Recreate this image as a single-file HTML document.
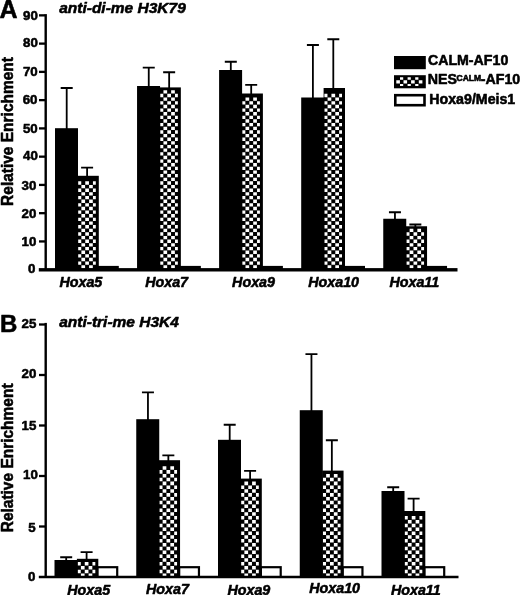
<!DOCTYPE html>
<html lang="en">
<head>
<meta charset="utf-8">
<title>Figure</title>
<style>
html,body{margin:0;padding:0;background:#fff;}
body{width:520px;height:595px;overflow:hidden;}
svg{display:block;}
text{font-family:"Liberation Sans",sans-serif;font-weight:bold;fill:#000;stroke:#000;stroke-width:0.55px;stroke-linejoin:round;}
.it{font-style:italic;}
</style>
</head>
<body>
<svg width="520" height="595" viewBox="0 0 520 595">
<rect x="0" y="0" width="520" height="595" fill="#fff"/>
<path d="M60.7 88H72.7M66.7 88V129.2" fill="none" stroke="#000" stroke-width="1.8"/>
<path d="M81.1 167.55H93.1M87.1 167.55V176.8" fill="none" stroke="#000" stroke-width="1.8"/>
<rect x="97.6" y="265.9" width="21.2" height="3.8" fill="#000"/>
<rect x="77.4" y="175.8" width="21.4" height="93.9" fill="#000"/>
<path d="M81.4 265.13H85.1V268.47H81.4zM89.1 265.13H92.8V268.47H89.1zM78.2 261.48H81.25V264.83H78.2zM85.25 261.48H88.95V264.83H85.25zM92.95 261.48H95.8V264.83H92.95zM81.4 257.84H85.1V261.18H81.4zM89.1 257.84H92.8V261.18H89.1zM78.2 254.2H81.25V257.54H78.2zM85.25 254.2H88.95V257.54H85.25zM92.95 254.2H95.8V257.54H92.95zM81.4 250.55H85.1V253.9H81.4zM89.1 250.55H92.8V253.9H89.1zM78.2 246.91H81.25V250.25H78.2zM85.25 246.91H88.95V250.25H85.25zM92.95 246.91H95.8V250.25H92.95zM81.4 243.26H85.1V246.61H81.4zM89.1 243.26H92.8V246.61H89.1zM78.2 239.62H81.25V242.96H78.2zM85.25 239.62H88.95V242.96H85.25zM92.95 239.62H95.8V242.96H92.95zM81.4 235.98H85.1V239.32H81.4zM89.1 235.98H92.8V239.32H89.1zM78.2 232.33H81.25V235.68H78.2zM85.25 232.33H88.95V235.68H85.25zM92.95 232.33H95.8V235.68H92.95zM81.4 228.69H85.1V232.03H81.4zM89.1 228.69H92.8V232.03H89.1zM78.2 225.04H81.25V228.39H78.2zM85.25 225.04H88.95V228.39H85.25zM92.95 225.04H95.8V228.39H92.95zM81.4 221.4H85.1V224.74H81.4zM89.1 221.4H92.8V224.74H89.1zM78.2 217.76H81.25V221.1H78.2zM85.25 217.76H88.95V221.1H85.25zM92.95 217.76H95.8V221.1H92.95zM81.4 214.11H85.1V217.46H81.4zM89.1 214.11H92.8V217.46H89.1zM78.2 210.47H81.25V213.81H78.2zM85.25 210.47H88.95V213.81H85.25zM92.95 210.47H95.8V213.81H92.95zM81.4 206.82H85.1V210.17H81.4zM89.1 206.82H92.8V210.17H89.1zM78.2 203.18H81.25V206.52H78.2zM85.25 203.18H88.95V206.52H85.25zM92.95 203.18H95.8V206.52H92.95zM81.4 199.54H85.1V202.88H81.4zM89.1 199.54H92.8V202.88H89.1zM78.2 195.89H81.25V199.24H78.2zM85.25 195.89H88.95V199.24H85.25zM92.95 195.89H95.8V199.24H92.95zM81.4 192.25H85.1V195.59H81.4zM89.1 192.25H92.8V195.59H89.1zM78.2 188.6H81.25V191.95H78.2zM85.25 188.6H88.95V191.95H85.25zM92.95 188.6H95.8V191.95H92.95zM81.4 184.96H85.1V188.3H81.4zM89.1 184.96H92.8V188.3H89.1zM78.2 181.32H81.25V184.66H78.2zM85.25 181.32H88.95V184.66H85.25zM92.95 181.32H95.8V184.66H92.95z" fill="#fff"/>
<rect x="55" y="128.2" width="23" height="141.5" fill="#000"/>
<path d="M142.75 67.55H154.75M148.75 67.55V87" fill="none" stroke="#000" stroke-width="1.8"/>
<path d="M163.15 72.25H175.15M169.15 72.25V88.4" fill="none" stroke="#000" stroke-width="1.8"/>
<rect x="179.65" y="265.9" width="21.2" height="3.8" fill="#000"/>
<rect x="159.45" y="87.4" width="21.4" height="182.3" fill="#000"/>
<path d="M163.45 265.13H167.15V268.47H163.45zM171.15 265.13H174.85V268.47H171.15zM160.25 261.48H163.3V264.83H160.25zM167.3 261.48H171V264.83H167.3zM175 261.48H177.85V264.83H175zM163.45 257.84H167.15V261.18H163.45zM171.15 257.84H174.85V261.18H171.15zM160.25 254.2H163.3V257.54H160.25zM167.3 254.2H171V257.54H167.3zM175 254.2H177.85V257.54H175zM163.45 250.55H167.15V253.9H163.45zM171.15 250.55H174.85V253.9H171.15zM160.25 246.91H163.3V250.25H160.25zM167.3 246.91H171V250.25H167.3zM175 246.91H177.85V250.25H175zM163.45 243.26H167.15V246.61H163.45zM171.15 243.26H174.85V246.61H171.15zM160.25 239.62H163.3V242.96H160.25zM167.3 239.62H171V242.96H167.3zM175 239.62H177.85V242.96H175zM163.45 235.98H167.15V239.32H163.45zM171.15 235.98H174.85V239.32H171.15zM160.25 232.33H163.3V235.68H160.25zM167.3 232.33H171V235.68H167.3zM175 232.33H177.85V235.68H175zM163.45 228.69H167.15V232.03H163.45zM171.15 228.69H174.85V232.03H171.15zM160.25 225.04H163.3V228.39H160.25zM167.3 225.04H171V228.39H167.3zM175 225.04H177.85V228.39H175zM163.45 221.4H167.15V224.74H163.45zM171.15 221.4H174.85V224.74H171.15zM160.25 217.76H163.3V221.1H160.25zM167.3 217.76H171V221.1H167.3zM175 217.76H177.85V221.1H175zM163.45 214.11H167.15V217.46H163.45zM171.15 214.11H174.85V217.46H171.15zM160.25 210.47H163.3V213.81H160.25zM167.3 210.47H171V213.81H167.3zM175 210.47H177.85V213.81H175zM163.45 206.82H167.15V210.17H163.45zM171.15 206.82H174.85V210.17H171.15zM160.25 203.18H163.3V206.52H160.25zM167.3 203.18H171V206.52H167.3zM175 203.18H177.85V206.52H175zM163.45 199.54H167.15V202.88H163.45zM171.15 199.54H174.85V202.88H171.15zM160.25 195.89H163.3V199.24H160.25zM167.3 195.89H171V199.24H167.3zM175 195.89H177.85V199.24H175zM163.45 192.25H167.15V195.59H163.45zM171.15 192.25H174.85V195.59H171.15zM160.25 188.6H163.3V191.95H160.25zM167.3 188.6H171V191.95H167.3zM175 188.6H177.85V191.95H175zM163.45 184.96H167.15V188.3H163.45zM171.15 184.96H174.85V188.3H171.15zM160.25 181.32H163.3V184.66H160.25zM167.3 181.32H171V184.66H167.3zM175 181.32H177.85V184.66H175zM163.45 177.67H167.15V181.02H163.45zM171.15 177.67H174.85V181.02H171.15zM160.25 174.03H163.3V177.37H160.25zM167.3 174.03H171V177.37H167.3zM175 174.03H177.85V177.37H175zM163.45 170.38H167.15V173.73H163.45zM171.15 170.38H174.85V173.73H171.15zM160.25 166.74H163.3V170.08H160.25zM167.3 166.74H171V170.08H167.3zM175 166.74H177.85V170.08H175zM163.45 163.1H167.15V166.44H163.45zM171.15 163.1H174.85V166.44H171.15zM160.25 159.45H163.3V162.8H160.25zM167.3 159.45H171V162.8H167.3zM175 159.45H177.85V162.8H175zM163.45 155.81H167.15V159.15H163.45zM171.15 155.81H174.85V159.15H171.15zM160.25 152.16H163.3V155.51H160.25zM167.3 152.16H171V155.51H167.3zM175 152.16H177.85V155.51H175zM163.45 148.52H167.15V151.86H163.45zM171.15 148.52H174.85V151.86H171.15zM160.25 144.88H163.3V148.22H160.25zM167.3 144.88H171V148.22H167.3zM175 144.88H177.85V148.22H175zM163.45 141.23H167.15V144.58H163.45zM171.15 141.23H174.85V144.58H171.15zM160.25 137.59H163.3V140.93H160.25zM167.3 137.59H171V140.93H167.3zM175 137.59H177.85V140.93H175zM163.45 133.94H167.15V137.29H163.45zM171.15 133.94H174.85V137.29H171.15zM160.25 130.3H163.3V133.64H160.25zM167.3 130.3H171V133.64H167.3zM175 130.3H177.85V133.64H175zM163.45 126.66H167.15V130H163.45zM171.15 126.66H174.85V130H171.15zM160.25 123.01H163.3V126.36H160.25zM167.3 123.01H171V126.36H167.3zM175 123.01H177.85V126.36H175zM163.45 119.37H167.15V122.71H163.45zM171.15 119.37H174.85V122.71H171.15zM160.25 115.72H163.3V119.07H160.25zM167.3 115.72H171V119.07H167.3zM175 115.72H177.85V119.07H175zM163.45 112.08H167.15V115.42H163.45zM171.15 112.08H174.85V115.42H171.15zM160.25 108.44H163.3V111.78H160.25zM167.3 108.44H171V111.78H167.3zM175 108.44H177.85V111.78H175zM163.45 104.79H167.15V108.14H163.45zM171.15 104.79H174.85V108.14H171.15zM160.25 101.15H163.3V104.49H160.25zM167.3 101.15H171V104.49H167.3zM175 101.15H177.85V104.49H175zM163.45 97.5H167.15V100.85H163.45zM171.15 97.5H174.85V100.85H171.15zM160.25 93.86H163.3V97.2H160.25zM167.3 93.86H171V97.2H167.3zM175 93.86H177.85V97.2H175zM163.45 90.22H167.15V93.56H163.45zM171.15 90.22H174.85V93.56H171.15z" fill="#fff"/>
<rect x="137.05" y="86" width="23" height="183.7" fill="#000"/>
<path d="M224.8 61.75H236.8M230.8 61.75V71" fill="none" stroke="#000" stroke-width="1.8"/>
<path d="M245.2 84.95H257.2M251.2 84.95V94.5" fill="none" stroke="#000" stroke-width="1.8"/>
<rect x="261.7" y="265.9" width="21.2" height="3.8" fill="#000"/>
<rect x="241.5" y="93.5" width="21.4" height="176.2" fill="#000"/>
<path d="M245.5 265.13H249.2V268.47H245.5zM253.2 265.13H256.9V268.47H253.2zM242.3 261.48H245.35V264.83H242.3zM249.35 261.48H253.05V264.83H249.35zM257.05 261.48H259.9V264.83H257.05zM245.5 257.84H249.2V261.18H245.5zM253.2 257.84H256.9V261.18H253.2zM242.3 254.2H245.35V257.54H242.3zM249.35 254.2H253.05V257.54H249.35zM257.05 254.2H259.9V257.54H257.05zM245.5 250.55H249.2V253.9H245.5zM253.2 250.55H256.9V253.9H253.2zM242.3 246.91H245.35V250.25H242.3zM249.35 246.91H253.05V250.25H249.35zM257.05 246.91H259.9V250.25H257.05zM245.5 243.26H249.2V246.61H245.5zM253.2 243.26H256.9V246.61H253.2zM242.3 239.62H245.35V242.96H242.3zM249.35 239.62H253.05V242.96H249.35zM257.05 239.62H259.9V242.96H257.05zM245.5 235.98H249.2V239.32H245.5zM253.2 235.98H256.9V239.32H253.2zM242.3 232.33H245.35V235.68H242.3zM249.35 232.33H253.05V235.68H249.35zM257.05 232.33H259.9V235.68H257.05zM245.5 228.69H249.2V232.03H245.5zM253.2 228.69H256.9V232.03H253.2zM242.3 225.04H245.35V228.39H242.3zM249.35 225.04H253.05V228.39H249.35zM257.05 225.04H259.9V228.39H257.05zM245.5 221.4H249.2V224.74H245.5zM253.2 221.4H256.9V224.74H253.2zM242.3 217.76H245.35V221.1H242.3zM249.35 217.76H253.05V221.1H249.35zM257.05 217.76H259.9V221.1H257.05zM245.5 214.11H249.2V217.46H245.5zM253.2 214.11H256.9V217.46H253.2zM242.3 210.47H245.35V213.81H242.3zM249.35 210.47H253.05V213.81H249.35zM257.05 210.47H259.9V213.81H257.05zM245.5 206.82H249.2V210.17H245.5zM253.2 206.82H256.9V210.17H253.2zM242.3 203.18H245.35V206.52H242.3zM249.35 203.18H253.05V206.52H249.35zM257.05 203.18H259.9V206.52H257.05zM245.5 199.54H249.2V202.88H245.5zM253.2 199.54H256.9V202.88H253.2zM242.3 195.89H245.35V199.24H242.3zM249.35 195.89H253.05V199.24H249.35zM257.05 195.89H259.9V199.24H257.05zM245.5 192.25H249.2V195.59H245.5zM253.2 192.25H256.9V195.59H253.2zM242.3 188.6H245.35V191.95H242.3zM249.35 188.6H253.05V191.95H249.35zM257.05 188.6H259.9V191.95H257.05zM245.5 184.96H249.2V188.3H245.5zM253.2 184.96H256.9V188.3H253.2zM242.3 181.32H245.35V184.66H242.3zM249.35 181.32H253.05V184.66H249.35zM257.05 181.32H259.9V184.66H257.05zM245.5 177.67H249.2V181.02H245.5zM253.2 177.67H256.9V181.02H253.2zM242.3 174.03H245.35V177.37H242.3zM249.35 174.03H253.05V177.37H249.35zM257.05 174.03H259.9V177.37H257.05zM245.5 170.38H249.2V173.73H245.5zM253.2 170.38H256.9V173.73H253.2zM242.3 166.74H245.35V170.08H242.3zM249.35 166.74H253.05V170.08H249.35zM257.05 166.74H259.9V170.08H257.05zM245.5 163.1H249.2V166.44H245.5zM253.2 163.1H256.9V166.44H253.2zM242.3 159.45H245.35V162.8H242.3zM249.35 159.45H253.05V162.8H249.35zM257.05 159.45H259.9V162.8H257.05zM245.5 155.81H249.2V159.15H245.5zM253.2 155.81H256.9V159.15H253.2zM242.3 152.16H245.35V155.51H242.3zM249.35 152.16H253.05V155.51H249.35zM257.05 152.16H259.9V155.51H257.05zM245.5 148.52H249.2V151.86H245.5zM253.2 148.52H256.9V151.86H253.2zM242.3 144.88H245.35V148.22H242.3zM249.35 144.88H253.05V148.22H249.35zM257.05 144.88H259.9V148.22H257.05zM245.5 141.23H249.2V144.58H245.5zM253.2 141.23H256.9V144.58H253.2zM242.3 137.59H245.35V140.93H242.3zM249.35 137.59H253.05V140.93H249.35zM257.05 137.59H259.9V140.93H257.05zM245.5 133.94H249.2V137.29H245.5zM253.2 133.94H256.9V137.29H253.2zM242.3 130.3H245.35V133.64H242.3zM249.35 130.3H253.05V133.64H249.35zM257.05 130.3H259.9V133.64H257.05zM245.5 126.66H249.2V130H245.5zM253.2 126.66H256.9V130H253.2zM242.3 123.01H245.35V126.36H242.3zM249.35 123.01H253.05V126.36H249.35zM257.05 123.01H259.9V126.36H257.05zM245.5 119.37H249.2V122.71H245.5zM253.2 119.37H256.9V122.71H253.2zM242.3 115.72H245.35V119.07H242.3zM249.35 115.72H253.05V119.07H249.35zM257.05 115.72H259.9V119.07H257.05zM245.5 112.08H249.2V115.42H245.5zM253.2 112.08H256.9V115.42H253.2zM242.3 108.44H245.35V111.78H242.3zM249.35 108.44H253.05V111.78H249.35zM257.05 108.44H259.9V111.78H257.05zM245.5 104.79H249.2V108.14H245.5zM253.2 104.79H256.9V108.14H253.2zM242.3 101.15H245.35V104.49H242.3zM249.35 101.15H253.05V104.49H249.35zM257.05 101.15H259.9V104.49H257.05zM245.5 97.5H249.2V100.85H245.5zM253.2 97.5H256.9V100.85H253.2z" fill="#fff"/>
<rect x="219.1" y="70" width="23" height="199.7" fill="#000"/>
<path d="M306.9 45H318.9M312.9 45V98.5" fill="none" stroke="#000" stroke-width="1.8"/>
<path d="M327.3 39.25H339.3M333.3 39.25V89" fill="none" stroke="#000" stroke-width="1.8"/>
<rect x="343.8" y="265.9" width="21.2" height="3.8" fill="#000"/>
<rect x="323.6" y="88" width="21.4" height="181.7" fill="#000"/>
<path d="M327.6 265.13H331.3V268.47H327.6zM335.3 265.13H339V268.47H335.3zM324.4 261.48H327.45V264.83H324.4zM331.45 261.48H335.15V264.83H331.45zM339.15 261.48H342V264.83H339.15zM327.6 257.84H331.3V261.18H327.6zM335.3 257.84H339V261.18H335.3zM324.4 254.2H327.45V257.54H324.4zM331.45 254.2H335.15V257.54H331.45zM339.15 254.2H342V257.54H339.15zM327.6 250.55H331.3V253.9H327.6zM335.3 250.55H339V253.9H335.3zM324.4 246.91H327.45V250.25H324.4zM331.45 246.91H335.15V250.25H331.45zM339.15 246.91H342V250.25H339.15zM327.6 243.26H331.3V246.61H327.6zM335.3 243.26H339V246.61H335.3zM324.4 239.62H327.45V242.96H324.4zM331.45 239.62H335.15V242.96H331.45zM339.15 239.62H342V242.96H339.15zM327.6 235.98H331.3V239.32H327.6zM335.3 235.98H339V239.32H335.3zM324.4 232.33H327.45V235.68H324.4zM331.45 232.33H335.15V235.68H331.45zM339.15 232.33H342V235.68H339.15zM327.6 228.69H331.3V232.03H327.6zM335.3 228.69H339V232.03H335.3zM324.4 225.04H327.45V228.39H324.4zM331.45 225.04H335.15V228.39H331.45zM339.15 225.04H342V228.39H339.15zM327.6 221.4H331.3V224.74H327.6zM335.3 221.4H339V224.74H335.3zM324.4 217.76H327.45V221.1H324.4zM331.45 217.76H335.15V221.1H331.45zM339.15 217.76H342V221.1H339.15zM327.6 214.11H331.3V217.46H327.6zM335.3 214.11H339V217.46H335.3zM324.4 210.47H327.45V213.81H324.4zM331.45 210.47H335.15V213.81H331.45zM339.15 210.47H342V213.81H339.15zM327.6 206.82H331.3V210.17H327.6zM335.3 206.82H339V210.17H335.3zM324.4 203.18H327.45V206.52H324.4zM331.45 203.18H335.15V206.52H331.45zM339.15 203.18H342V206.52H339.15zM327.6 199.54H331.3V202.88H327.6zM335.3 199.54H339V202.88H335.3zM324.4 195.89H327.45V199.24H324.4zM331.45 195.89H335.15V199.24H331.45zM339.15 195.89H342V199.24H339.15zM327.6 192.25H331.3V195.59H327.6zM335.3 192.25H339V195.59H335.3zM324.4 188.6H327.45V191.95H324.4zM331.45 188.6H335.15V191.95H331.45zM339.15 188.6H342V191.95H339.15zM327.6 184.96H331.3V188.3H327.6zM335.3 184.96H339V188.3H335.3zM324.4 181.32H327.45V184.66H324.4zM331.45 181.32H335.15V184.66H331.45zM339.15 181.32H342V184.66H339.15zM327.6 177.67H331.3V181.02H327.6zM335.3 177.67H339V181.02H335.3zM324.4 174.03H327.45V177.37H324.4zM331.45 174.03H335.15V177.37H331.45zM339.15 174.03H342V177.37H339.15zM327.6 170.38H331.3V173.73H327.6zM335.3 170.38H339V173.73H335.3zM324.4 166.74H327.45V170.08H324.4zM331.45 166.74H335.15V170.08H331.45zM339.15 166.74H342V170.08H339.15zM327.6 163.1H331.3V166.44H327.6zM335.3 163.1H339V166.44H335.3zM324.4 159.45H327.45V162.8H324.4zM331.45 159.45H335.15V162.8H331.45zM339.15 159.45H342V162.8H339.15zM327.6 155.81H331.3V159.15H327.6zM335.3 155.81H339V159.15H335.3zM324.4 152.16H327.45V155.51H324.4zM331.45 152.16H335.15V155.51H331.45zM339.15 152.16H342V155.51H339.15zM327.6 148.52H331.3V151.86H327.6zM335.3 148.52H339V151.86H335.3zM324.4 144.88H327.45V148.22H324.4zM331.45 144.88H335.15V148.22H331.45zM339.15 144.88H342V148.22H339.15zM327.6 141.23H331.3V144.58H327.6zM335.3 141.23H339V144.58H335.3zM324.4 137.59H327.45V140.93H324.4zM331.45 137.59H335.15V140.93H331.45zM339.15 137.59H342V140.93H339.15zM327.6 133.94H331.3V137.29H327.6zM335.3 133.94H339V137.29H335.3zM324.4 130.3H327.45V133.64H324.4zM331.45 130.3H335.15V133.64H331.45zM339.15 130.3H342V133.64H339.15zM327.6 126.66H331.3V130H327.6zM335.3 126.66H339V130H335.3zM324.4 123.01H327.45V126.36H324.4zM331.45 123.01H335.15V126.36H331.45zM339.15 123.01H342V126.36H339.15zM327.6 119.37H331.3V122.71H327.6zM335.3 119.37H339V122.71H335.3zM324.4 115.72H327.45V119.07H324.4zM331.45 115.72H335.15V119.07H331.45zM339.15 115.72H342V119.07H339.15zM327.6 112.08H331.3V115.42H327.6zM335.3 112.08H339V115.42H335.3zM324.4 108.44H327.45V111.78H324.4zM331.45 108.44H335.15V111.78H331.45zM339.15 108.44H342V111.78H339.15zM327.6 104.79H331.3V108.14H327.6zM335.3 104.79H339V108.14H335.3zM324.4 101.15H327.45V104.49H324.4zM331.45 101.15H335.15V104.49H331.45zM339.15 101.15H342V104.49H339.15zM327.6 97.5H331.3V100.85H327.6zM335.3 97.5H339V100.85H335.3zM324.4 93.86H327.45V97.2H324.4zM331.45 93.86H335.15V97.2H331.45zM339.15 93.86H342V97.2H339.15z" fill="#fff"/>
<rect x="301.2" y="97.5" width="23" height="172.2" fill="#000"/>
<path d="M388.95 212.25H400.95M394.95 212.25V219.75" fill="none" stroke="#000" stroke-width="1.8"/>
<path d="M409.35 224.5H421.35M415.35 224.5V227.25" fill="none" stroke="#000" stroke-width="1.8"/>
<rect x="425.85" y="265.9" width="21.2" height="3.8" fill="#000"/>
<rect x="405.65" y="226.25" width="21.4" height="43.45" fill="#000"/>
<path d="M409.65 265.13H413.35V268.47H409.65zM417.35 265.13H421.05V268.47H417.35zM406.45 261.48H409.5V264.83H406.45zM413.5 261.48H417.2V264.83H413.5zM421.2 261.48H424.05V264.83H421.2zM409.65 257.84H413.35V261.18H409.65zM417.35 257.84H421.05V261.18H417.35zM406.45 254.2H409.5V257.54H406.45zM413.5 254.2H417.2V257.54H413.5zM421.2 254.2H424.05V257.54H421.2zM409.65 250.55H413.35V253.9H409.65zM417.35 250.55H421.05V253.9H417.35zM406.45 246.91H409.5V250.25H406.45zM413.5 246.91H417.2V250.25H413.5zM421.2 246.91H424.05V250.25H421.2zM409.65 243.26H413.35V246.61H409.65zM417.35 243.26H421.05V246.61H417.35zM406.45 239.62H409.5V242.96H406.45zM413.5 239.62H417.2V242.96H413.5zM421.2 239.62H424.05V242.96H421.2zM409.65 235.98H413.35V239.32H409.65zM417.35 235.98H421.05V239.32H417.35zM406.45 232.33H409.5V235.68H406.45zM413.5 232.33H417.2V235.68H413.5zM421.2 232.33H424.05V235.68H421.2zM409.65 228.69H413.35V232.03H409.65zM417.35 228.69H421.05V232.03H417.35z" fill="#fff"/>
<rect x="383.25" y="218.75" width="23" height="50.95" fill="#000"/>
<rect x="44.5" y="14.1" width="2.4" height="255.7" fill="#000"/>
<rect x="38.8" y="268.1" width="418.7" height="3.4" fill="#000"/>
<text x="35.4" y="272.6" font-size="13.3" text-anchor="end">0</text>
<rect x="39" y="240.29" width="6" height="2.3" fill="#000"/>
<text x="36.4" y="246.34" font-size="13.3" text-anchor="end">10</text>
<rect x="39" y="212.03" width="6" height="2.3" fill="#000"/>
<text x="36.4" y="218.38" font-size="13.3" text-anchor="end">20</text>
<rect x="39" y="183.77" width="6" height="2.3" fill="#000"/>
<text x="36.4" y="189.82" font-size="13.3" text-anchor="end">30</text>
<rect x="39" y="155.51" width="6" height="2.3" fill="#000"/>
<text x="37.9" y="160.26" font-size="13.3" text-anchor="end">40</text>
<rect x="39" y="127.25" width="6" height="2.3" fill="#000"/>
<text x="37.7" y="132.6" font-size="13.3" text-anchor="end">50</text>
<rect x="39" y="98.99" width="6" height="2.3" fill="#000"/>
<text x="37.5" y="104.34" font-size="13.3" text-anchor="end">60</text>
<rect x="39" y="70.73" width="6" height="2.3" fill="#000"/>
<text x="37.7" y="75.98" font-size="13.3" text-anchor="end">70</text>
<rect x="39" y="42.47" width="6" height="2.3" fill="#000"/>
<text x="37.8" y="47.32" font-size="13.3" text-anchor="end">80</text>
<rect x="39" y="14.21" width="6" height="2.3" fill="#000"/>
<text x="37.8" y="19.56" font-size="13.3" text-anchor="end">90</text>
<text class="it" x="59.4" y="286.8" font-size="14.3">Hoxa5</text>
<text class="it" x="145.15" y="286.8" font-size="14.3">Hoxa7</text>
<text class="it" x="232.1" y="286.8" font-size="14.3">Hoxa9</text>
<text class="it" x="308.2" y="286.8" font-size="14.3">Hoxa10</text>
<text class="it" x="389.4" y="286.8" font-size="14.3">Hoxa11</text>
<text x="-0.5" y="17.5" font-size="25">A</text>
<text class="it" x="59.2" y="13.2" font-size="15.5">anti-di-me H3K79</text>
<text transform="translate(12.5 205.9) rotate(-90) scale(1 1.05)" font-size="15.5" stroke-width="0.6">Relative Enrichment</text>
<rect x="394" y="56" width="31.8" height="13.2" fill="#000"/>
<rect x="394" y="75.2" width="31.8" height="13.1" fill="#000"/>
<path d="M400 77.35h3.2v2.3h-3.2zM407.6 77.35h3.2v2.3h-3.2zM415.2 77.35h3.2v2.3h-3.2zM396.3 80.2h3.6v3.2h-3.6zM403.5 80.2h3.6v3.2h-3.6zM411.1 80.2h3.6v3.2h-3.6zM418.8 80.2h3.6v3.2h-3.6zM400 83.95h3.2v2.1h-3.2zM407.6 83.95h3.2v2.1h-3.2zM415.2 83.95h3.2v2.1h-3.2z" fill="#fff"/>
<rect x="395.3" y="95.2" width="29.2" height="10.0" fill="#fff" stroke="#000" stroke-width="2.6"/>
<text x="427.9" y="65.0" font-size="14.2">CALM-AF10</text>
<text x="427.7" y="84.3" font-size="14.2">NES<tspan font-size="8.5" x="456.6" y="80.6" stroke-width="0.6">CALM</tspan><tspan x="480.8" y="84.3">-AF10</tspan></text>
<text x="429.3" y="104.1" font-size="14.2">Hoxa9/Meis1</text>
<path d="M60.2 557.25H72.2M66.2 557.25V561" fill="none" stroke="#000" stroke-width="1.8"/>
<path d="M80.6 552.05H92.6M86.6 552.05V559.8" fill="none" stroke="#000" stroke-width="1.8"/>
<rect x="97.1" y="566.1" width="21.2" height="10.9" fill="#000"/>
<rect x="98.5" y="568.3" width="17.6" height="8.7" fill="#fff"/>
<rect x="76.9" y="558.8" width="21.4" height="18.2" fill="#000"/>
<path d="M80.9 573.53H84.6V577.06H80.9zM88.6 573.53H92.3V577.06H88.6zM77.7 569.7H80.75V573.23H77.7zM84.75 569.7H88.45V573.23H84.75zM92.45 569.7H95.3V573.23H92.45zM80.9 565.88H84.6V569.4H80.9zM88.6 565.88H92.3V569.4H88.6zM77.7 562.04H80.75V565.57H77.7zM84.75 562.04H88.45V565.57H84.75zM92.45 562.04H95.3V565.57H92.45z" fill="#fff"/>
<rect x="54.5" y="560" width="23" height="17" fill="#000"/>
<path d="M141.95 392.45H153.95M147.95 392.45V420.2" fill="none" stroke="#000" stroke-width="1.8"/>
<path d="M162.35 455.45H174.35M168.35 455.45V461.2" fill="none" stroke="#000" stroke-width="1.8"/>
<rect x="178.85" y="566.1" width="21.2" height="10.9" fill="#000"/>
<rect x="180.25" y="568.3" width="17.6" height="8.7" fill="#fff"/>
<rect x="158.65" y="460.2" width="21.4" height="116.8" fill="#000"/>
<path d="M162.65 573.53H166.35V577.06H162.65zM170.35 573.53H174.05V577.06H170.35zM159.45 569.7H162.5V573.23H159.45zM166.5 569.7H170.2V573.23H166.5zM174.2 569.7H177.05V573.23H174.2zM162.65 565.88H166.35V569.4H162.65zM170.35 565.88H174.05V569.4H170.35zM159.45 562.04H162.5V565.57H159.45zM166.5 562.04H170.2V565.57H166.5zM174.2 562.04H177.05V565.57H174.2zM162.65 558.21H166.35V561.74H162.65zM170.35 558.21H174.05V561.74H170.35zM159.45 554.38H162.5V557.91H159.45zM166.5 554.38H170.2V557.91H166.5zM174.2 554.38H177.05V557.91H174.2zM162.65 550.55H166.35V554.08H162.65zM170.35 550.55H174.05V554.08H170.35zM159.45 546.73H162.5V550.25H159.45zM166.5 546.73H170.2V550.25H166.5zM174.2 546.73H177.05V550.25H174.2zM162.65 542.89H166.35V546.42H162.65zM170.35 542.89H174.05V546.42H170.35zM159.45 539.06H162.5V542.59H159.45zM166.5 539.06H170.2V542.59H166.5zM174.2 539.06H177.05V542.59H174.2zM162.65 535.24H166.35V538.76H162.65zM170.35 535.24H174.05V538.76H170.35zM159.45 531.4H162.5V534.93H159.45zM166.5 531.4H170.2V534.93H166.5zM174.2 531.4H177.05V534.93H174.2zM162.65 527.57H166.35V531.1H162.65zM170.35 527.57H174.05V531.1H170.35zM159.45 523.75H162.5V527.27H159.45zM166.5 523.75H170.2V527.27H166.5zM174.2 523.75H177.05V527.27H174.2zM162.65 519.91H166.35V523.44H162.65zM170.35 519.91H174.05V523.44H170.35zM159.45 516.08H162.5V519.61H159.45zM166.5 516.08H170.2V519.61H166.5zM174.2 516.08H177.05V519.61H174.2zM162.65 512.25H166.35V515.78H162.65zM170.35 512.25H174.05V515.78H170.35zM159.45 508.42H162.5V511.95H159.45zM166.5 508.42H170.2V511.95H166.5zM174.2 508.42H177.05V511.95H174.2zM162.65 504.59H166.35V508.12H162.65zM170.35 504.59H174.05V508.12H170.35zM159.45 500.76H162.5V504.29H159.45zM166.5 500.76H170.2V504.29H166.5zM174.2 500.76H177.05V504.29H174.2zM162.65 496.93H166.35V500.46H162.65zM170.35 496.93H174.05V500.46H170.35zM159.45 493.1H162.5V496.63H159.45zM166.5 493.1H170.2V496.63H166.5zM174.2 493.1H177.05V496.63H174.2zM162.65 489.27H166.35V492.8H162.65zM170.35 489.27H174.05V492.8H170.35zM159.45 485.44H162.5V488.97H159.45zM166.5 485.44H170.2V488.97H166.5zM174.2 485.44H177.05V488.97H174.2zM162.65 481.61H166.35V485.14H162.65zM170.35 481.61H174.05V485.14H170.35zM159.45 477.78H162.5V481.31H159.45zM166.5 477.78H170.2V481.31H166.5zM174.2 477.78H177.05V481.31H174.2zM162.65 473.95H166.35V477.48H162.65zM170.35 473.95H174.05V477.48H170.35zM159.45 470.12H162.5V473.65H159.45zM166.5 470.12H170.2V473.65H166.5zM174.2 470.12H177.05V473.65H174.2zM162.65 466.29H166.35V469.82H162.65zM170.35 466.29H174.05V469.82H170.35z" fill="#fff"/>
<rect x="136.25" y="419.2" width="23" height="157.8" fill="#000"/>
<path d="M223.7 424.75H235.7M229.7 424.75V440.8" fill="none" stroke="#000" stroke-width="1.8"/>
<path d="M244.1 470.85H256.1M250.1 470.85V479.6" fill="none" stroke="#000" stroke-width="1.8"/>
<rect x="260.6" y="566.1" width="21.2" height="10.9" fill="#000"/>
<rect x="262" y="568.3" width="17.6" height="8.7" fill="#fff"/>
<rect x="240.4" y="478.6" width="21.4" height="98.4" fill="#000"/>
<path d="M244.4 573.53H248.1V577.06H244.4zM252.1 573.53H255.8V577.06H252.1zM241.2 569.7H244.25V573.23H241.2zM248.25 569.7H251.95V573.23H248.25zM255.95 569.7H258.8V573.23H255.95zM244.4 565.88H248.1V569.4H244.4zM252.1 565.88H255.8V569.4H252.1zM241.2 562.04H244.25V565.57H241.2zM248.25 562.04H251.95V565.57H248.25zM255.95 562.04H258.8V565.57H255.95zM244.4 558.21H248.1V561.74H244.4zM252.1 558.21H255.8V561.74H252.1zM241.2 554.38H244.25V557.91H241.2zM248.25 554.38H251.95V557.91H248.25zM255.95 554.38H258.8V557.91H255.95zM244.4 550.55H248.1V554.08H244.4zM252.1 550.55H255.8V554.08H252.1zM241.2 546.73H244.25V550.25H241.2zM248.25 546.73H251.95V550.25H248.25zM255.95 546.73H258.8V550.25H255.95zM244.4 542.89H248.1V546.42H244.4zM252.1 542.89H255.8V546.42H252.1zM241.2 539.06H244.25V542.59H241.2zM248.25 539.06H251.95V542.59H248.25zM255.95 539.06H258.8V542.59H255.95zM244.4 535.24H248.1V538.76H244.4zM252.1 535.24H255.8V538.76H252.1zM241.2 531.4H244.25V534.93H241.2zM248.25 531.4H251.95V534.93H248.25zM255.95 531.4H258.8V534.93H255.95zM244.4 527.57H248.1V531.1H244.4zM252.1 527.57H255.8V531.1H252.1zM241.2 523.75H244.25V527.27H241.2zM248.25 523.75H251.95V527.27H248.25zM255.95 523.75H258.8V527.27H255.95zM244.4 519.91H248.1V523.44H244.4zM252.1 519.91H255.8V523.44H252.1zM241.2 516.08H244.25V519.61H241.2zM248.25 516.08H251.95V519.61H248.25zM255.95 516.08H258.8V519.61H255.95zM244.4 512.25H248.1V515.78H244.4zM252.1 512.25H255.8V515.78H252.1zM241.2 508.42H244.25V511.95H241.2zM248.25 508.42H251.95V511.95H248.25zM255.95 508.42H258.8V511.95H255.95zM244.4 504.59H248.1V508.12H244.4zM252.1 504.59H255.8V508.12H252.1zM241.2 500.76H244.25V504.29H241.2zM248.25 500.76H251.95V504.29H248.25zM255.95 500.76H258.8V504.29H255.95zM244.4 496.93H248.1V500.46H244.4zM252.1 496.93H255.8V500.46H252.1zM241.2 493.1H244.25V496.63H241.2zM248.25 493.1H251.95V496.63H248.25zM255.95 493.1H258.8V496.63H255.95zM244.4 489.27H248.1V492.8H244.4zM252.1 489.27H255.8V492.8H252.1zM241.2 485.44H244.25V488.97H241.2zM248.25 485.44H251.95V488.97H248.25zM255.95 485.44H258.8V488.97H255.95zM244.4 481.61H248.1V485.14H244.4zM252.1 481.61H255.8V485.14H252.1z" fill="#fff"/>
<rect x="218" y="439.8" width="23" height="137.2" fill="#000"/>
<path d="M305.45 354.05H317.45M311.45 354.05V411.2" fill="none" stroke="#000" stroke-width="1.8"/>
<path d="M325.85 440.25H337.85M331.85 440.25V471.6" fill="none" stroke="#000" stroke-width="1.8"/>
<rect x="342.35" y="566.1" width="21.2" height="10.9" fill="#000"/>
<rect x="343.75" y="568.3" width="17.6" height="8.7" fill="#fff"/>
<rect x="322.15" y="470.6" width="21.4" height="106.4" fill="#000"/>
<path d="M326.15 573.53H329.85V577.06H326.15zM333.85 573.53H337.55V577.06H333.85zM322.95 569.7H326V573.23H322.95zM330 569.7H333.7V573.23H330zM337.7 569.7H340.55V573.23H337.7zM326.15 565.88H329.85V569.4H326.15zM333.85 565.88H337.55V569.4H333.85zM322.95 562.04H326V565.57H322.95zM330 562.04H333.7V565.57H330zM337.7 562.04H340.55V565.57H337.7zM326.15 558.21H329.85V561.74H326.15zM333.85 558.21H337.55V561.74H333.85zM322.95 554.38H326V557.91H322.95zM330 554.38H333.7V557.91H330zM337.7 554.38H340.55V557.91H337.7zM326.15 550.55H329.85V554.08H326.15zM333.85 550.55H337.55V554.08H333.85zM322.95 546.73H326V550.25H322.95zM330 546.73H333.7V550.25H330zM337.7 546.73H340.55V550.25H337.7zM326.15 542.89H329.85V546.42H326.15zM333.85 542.89H337.55V546.42H333.85zM322.95 539.06H326V542.59H322.95zM330 539.06H333.7V542.59H330zM337.7 539.06H340.55V542.59H337.7zM326.15 535.24H329.85V538.76H326.15zM333.85 535.24H337.55V538.76H333.85zM322.95 531.4H326V534.93H322.95zM330 531.4H333.7V534.93H330zM337.7 531.4H340.55V534.93H337.7zM326.15 527.57H329.85V531.1H326.15zM333.85 527.57H337.55V531.1H333.85zM322.95 523.75H326V527.27H322.95zM330 523.75H333.7V527.27H330zM337.7 523.75H340.55V527.27H337.7zM326.15 519.91H329.85V523.44H326.15zM333.85 519.91H337.55V523.44H333.85zM322.95 516.08H326V519.61H322.95zM330 516.08H333.7V519.61H330zM337.7 516.08H340.55V519.61H337.7zM326.15 512.25H329.85V515.78H326.15zM333.85 512.25H337.55V515.78H333.85zM322.95 508.42H326V511.95H322.95zM330 508.42H333.7V511.95H330zM337.7 508.42H340.55V511.95H337.7zM326.15 504.59H329.85V508.12H326.15zM333.85 504.59H337.55V508.12H333.85zM322.95 500.76H326V504.29H322.95zM330 500.76H333.7V504.29H330zM337.7 500.76H340.55V504.29H337.7zM326.15 496.93H329.85V500.46H326.15zM333.85 496.93H337.55V500.46H333.85zM322.95 493.1H326V496.63H322.95zM330 493.1H333.7V496.63H330zM337.7 493.1H340.55V496.63H337.7zM326.15 489.27H329.85V492.8H326.15zM333.85 489.27H337.55V492.8H333.85zM322.95 485.44H326V488.97H322.95zM330 485.44H333.7V488.97H330zM337.7 485.44H340.55V488.97H337.7zM326.15 481.61H329.85V485.14H326.15zM333.85 481.61H337.55V485.14H333.85zM322.95 477.78H326V481.31H322.95zM330 477.78H333.7V481.31H330zM337.7 477.78H340.55V481.31H337.7zM326.15 473.95H329.85V477.48H326.15zM333.85 473.95H337.55V477.48H333.85z" fill="#fff"/>
<rect x="299.75" y="410.2" width="23" height="166.8" fill="#000"/>
<path d="M387.2 487.25H399.2M393.2 487.25V492" fill="none" stroke="#000" stroke-width="1.8"/>
<path d="M407.6 498.55H419.6M413.6 498.55V512" fill="none" stroke="#000" stroke-width="1.8"/>
<rect x="424.1" y="566.1" width="21.2" height="10.9" fill="#000"/>
<rect x="425.5" y="568.3" width="17.6" height="8.7" fill="#fff"/>
<rect x="403.9" y="511" width="21.4" height="66" fill="#000"/>
<path d="M407.9 573.53H411.6V577.06H407.9zM415.6 573.53H419.3V577.06H415.6zM404.7 569.7H407.75V573.23H404.7zM411.75 569.7H415.45V573.23H411.75zM419.45 569.7H422.3V573.23H419.45zM407.9 565.88H411.6V569.4H407.9zM415.6 565.88H419.3V569.4H415.6zM404.7 562.04H407.75V565.57H404.7zM411.75 562.04H415.45V565.57H411.75zM419.45 562.04H422.3V565.57H419.45zM407.9 558.21H411.6V561.74H407.9zM415.6 558.21H419.3V561.74H415.6zM404.7 554.38H407.75V557.91H404.7zM411.75 554.38H415.45V557.91H411.75zM419.45 554.38H422.3V557.91H419.45zM407.9 550.55H411.6V554.08H407.9zM415.6 550.55H419.3V554.08H415.6zM404.7 546.73H407.75V550.25H404.7zM411.75 546.73H415.45V550.25H411.75zM419.45 546.73H422.3V550.25H419.45zM407.9 542.89H411.6V546.42H407.9zM415.6 542.89H419.3V546.42H415.6zM404.7 539.06H407.75V542.59H404.7zM411.75 539.06H415.45V542.59H411.75zM419.45 539.06H422.3V542.59H419.45zM407.9 535.24H411.6V538.76H407.9zM415.6 535.24H419.3V538.76H415.6zM404.7 531.4H407.75V534.93H404.7zM411.75 531.4H415.45V534.93H411.75zM419.45 531.4H422.3V534.93H419.45zM407.9 527.57H411.6V531.1H407.9zM415.6 527.57H419.3V531.1H415.6zM404.7 523.75H407.75V527.27H404.7zM411.75 523.75H415.45V527.27H411.75zM419.45 523.75H422.3V527.27H419.45zM407.9 519.91H411.6V523.44H407.9zM415.6 519.91H419.3V523.44H415.6zM404.7 516.08H407.75V519.61H404.7zM411.75 516.08H415.45V519.61H411.75zM419.45 516.08H422.3V519.61H419.45z" fill="#fff"/>
<rect x="381.5" y="491" width="23" height="86" fill="#000"/>
<rect x="44.5" y="322.9" width="2.4" height="254.1" fill="#000"/>
<rect x="38.8" y="575.75" width="419.7" height="2.5" fill="#000"/>
<text x="35.3" y="581.4" font-size="13.3" text-anchor="end">0</text>
<rect x="39" y="525.35" width="6" height="2.3" fill="#000"/>
<text x="35.6" y="532" font-size="13.3" text-anchor="end">5</text>
<rect x="39" y="474.85" width="6" height="2.3" fill="#000"/>
<text x="37.9" y="479.2" font-size="13.3" text-anchor="end">10</text>
<rect x="39" y="424.35" width="6" height="2.3" fill="#000"/>
<text x="36.4" y="430.4" font-size="13.3" text-anchor="end">15</text>
<rect x="39" y="373.85" width="6" height="2.3" fill="#000"/>
<text x="36.4" y="378.4" font-size="13.3" text-anchor="end">20</text>
<rect x="39" y="323.35" width="6" height="2.3" fill="#000"/>
<text x="36.4" y="328.3" font-size="13.3" text-anchor="end">25</text>
<text class="it" x="67.3" y="594.7" font-size="14.3">Hoxa5</text>
<text class="it" x="146" y="594.3" font-size="14.3">Hoxa7</text>
<text class="it" x="227.4" y="595" font-size="14.3">Hoxa9</text>
<text class="it" x="309.2" y="593.4" font-size="14.3">Hoxa10</text>
<text class="it" x="390.9" y="595" font-size="14.3">Hoxa11</text>
<text x="-0.1" y="332.2" font-size="24">B</text>
<text class="it" x="59.2" y="327.0" font-size="15.5">anti-tri-me H3K4</text>
<text transform="translate(12.5 532.3) rotate(-90) scale(1 1.05)" font-size="15.5" stroke-width="0.6">Relative Enrichment</text>
</svg>
</body>
</html>
